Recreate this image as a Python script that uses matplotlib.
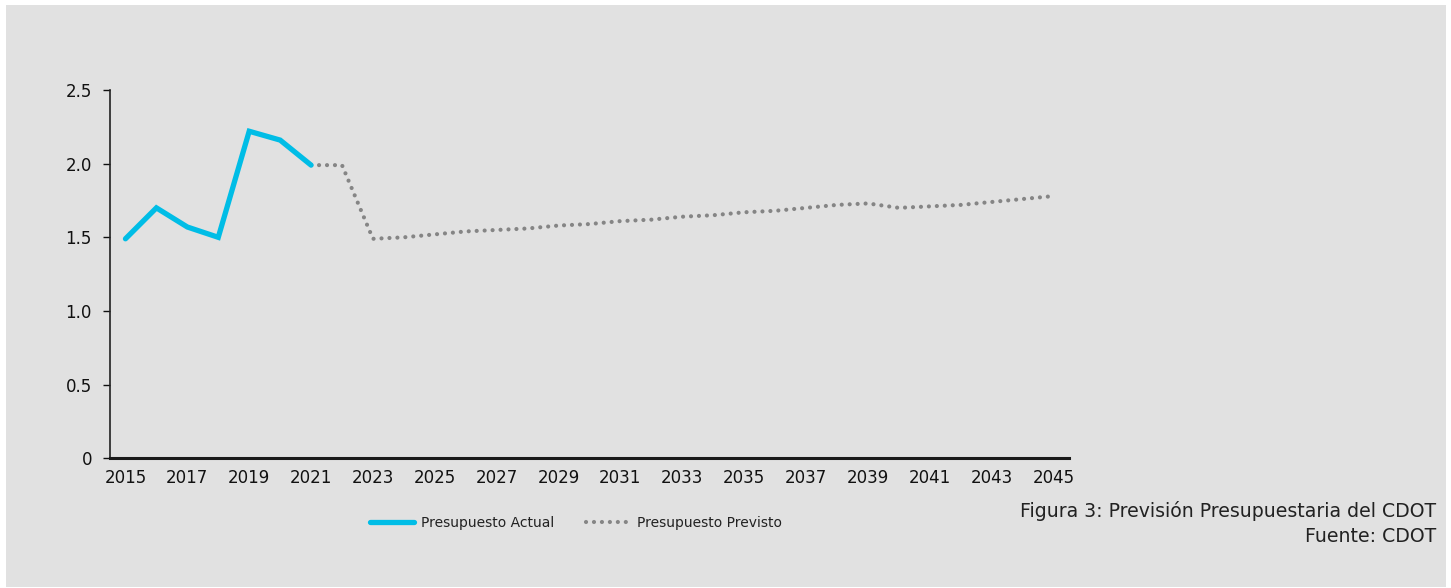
import matplotlib
matplotlib.use("Agg")
import matplotlib.pyplot as plt
from matplotlib.patches import Rectangle
import numpy as np

years_actual = [2015, 2016, 2017, 2018, 2019, 2020, 2021]
actual = [1.49, 1.70, 1.57, 1.50, 2.22, 2.16, 1.99]

years_forecast = list(range(2021, 2046))
forecast = [1.99, 1.99, 1.49, 1.50, 1.52, 1.54, 1.55, 1.56, 1.58, 1.59,
            1.61, 1.62, 1.64, 1.65, 1.67, 1.68, 1.70, 1.72, 1.73, 1.70,
            1.71, 1.72, 1.74, 1.76, 1.78]

xtick_years = list(range(2015, 2046, 2))
yticks = [0, 0.5, 1.0, 1.5, 2.0, 2.5]
ytick_labels = ["0", "0.5", "1.0", "1.5", "2.0", "2.5"]

caption1 = "Figura 3: Previsión Presupuestaria del CDOT"
caption2 = "Fuente: CDOT"

W, H = 1451, 588
fig = plt.figure(figsize=(W / 100, H / 100), dpi=100, facecolor="white")
fig.patches.append(Rectangle((6 / W, 1 - 587 / H), (1446 - 6) / W, (587 - 5) / H,
                             transform=fig.transFigure, facecolor="#e1e1e1",
                             edgecolor="none", zorder=-10))

left, right = 110 / W, 1069 / W
bottom, top = 1 - 458.3 / H, 1 - 90 / H
ax = fig.add_axes([left, bottom, right - left, top - bottom])
ax.set_facecolor("none")
ax.set_zorder(5)

ax.plot(years_forecast, forecast, color="#858585", lw=3.0,
        linestyle=(0, (0.01, 1.9)), dash_capstyle="round",
        solid_capstyle="round", label="Presupuesto Previsto", zorder=2)
ax.plot(years_actual, actual, color="#00bde6", lw=3.8,
        solid_capstyle="round", solid_joinstyle="miter",
        label="Presupuesto Actual", zorder=3)

ax.set_xlim(2014.5, 2045.5)
ax.set_ylim(0, 2.5)
ax.set_xticks(xtick_years)
ax.set_xticklabels([str(y) for y in xtick_years])
ax.set_yticks(yticks)
ax.set_yticklabels(ytick_labels)

for s in ["top", "right"]:
    ax.spines[s].set_visible(False)
ax.spines["left"].set_color("#222222")
ax.spines["left"].set_linewidth(1.2)
ax.spines["bottom"].set_color("#1a1a1a")
ax.spines["bottom"].set_linewidth(2.2)

ax.tick_params(axis="x", length=0, pad=8, labelsize=12, colors="#111111")
ax.tick_params(axis="y", length=5, width=1, pad=8, labelsize=12,
               colors="#111111", direction="out")

handles, labels = ax.get_legend_handles_labels()
order = [1, 0]
leg = fig.legend([handles[i] for i in order], [labels[i] for i in order],
                 loc="center", bbox_to_anchor=(576 / W, 1 - 523 / H),
                 ncol=2, frameon=False, fontsize=10, handlelength=3.2,
                 handletextpad=0.5, columnspacing=2.3)
for t in leg.get_texts():
    t.set_color("#222222")

fig.text(1436 / W, 1 - 511 / H, caption1, ha="right", va="center",
         fontsize=13.6, color="#222222")
fig.text(1436 / W, 1 - 537 / H, caption2, ha="right", va="center",
         fontsize=13.6, color="#222222")

fig.savefig("out.png", dpi=100, facecolor="white")
